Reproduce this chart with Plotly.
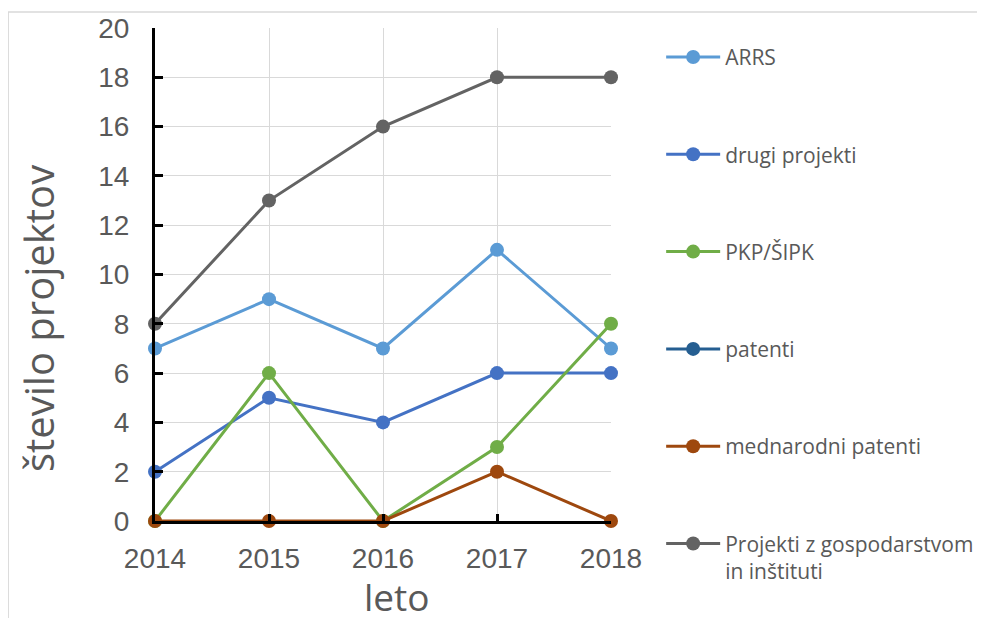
import plotly.graph_objects as go

years = [2014, 2015, 2016, 2017, 2018]
series_names = [
    "ARRS",
    "drugi projekti",
    "PKP/ŠIPK",
    "patenti",
    "mednarodni patenti",
    "Projekti z gospodarstvom<br>in inštituti",
]
arrs = [7, 9, 7, 11, 7]
drugi_projekti = [2, 5, 4, 6, 6]
pkp_sipk = [0, 6, 0, 3, 8]
patenti = [None, None, None, None, None]
mednarodni_patenti = [0, 0, 0, 2, 0]
gospodarstvo = [8, 13, 16, 18, 18]
colors = ["#5B9BD5", "#4472C4", "#70AD47", "#255E91", "#9E480E", "#636363"]

y_ticks = list(range(0, 21, 2))
x_title = "leto"
y_title = "število projektov"

fig = go.Figure()
for name, vals, col in zip(series_names,
                           [arrs, drugi_projekti, pkp_sipk, patenti, mednarodni_patenti, gospodarstvo],
                           colors):
    fig.add_trace(go.Scatter(
        x=years, y=vals, name=name, mode="lines+markers",
        line=dict(color=col, width=3),
        marker=dict(color=col, size=14),
        cliponaxis=False, legendgroup=name, showlegend=True,
    ))

text_col = "#595959"
fig.update_layout(
    width=977, height=610,
    margin=dict(l=147, r=374, t=20, b=97, autoexpand=False),
    paper_bgcolor="white", plot_bgcolor="white",
    showlegend=True,
    legend=dict(
        x=1.110, xanchor="left", y=0.982, yanchor="top",
        font=dict(family="Open Sans", size=21, color=text_col),
        tracegroupgap=67, valign="top", bgcolor="rgba(0,0,0,0)",
        maxheight=600, itemwidth=54,
    ),
    xaxis=dict(
        range=[2014, 2018], tickmode="array", tickvals=years,
        ticktext=[str(y) for y in years],
        showgrid=True, gridcolor="#D9D9D9", gridwidth=1,
        showline=True, linecolor="black", linewidth=3,
        ticks="inside", ticklen=7, tickwidth=3, tickcolor="black",
        zeroline=False,
        tickfont=dict(family="Liberation Sans", size=28, color=text_col),
        ticklabelstandoff=10,
    ),
    yaxis=dict(
        range=[0, 20], tickmode="array", tickvals=y_ticks,
        showgrid=True, gridcolor="#D9D9D9", gridwidth=1,
        showline=True, linecolor="black", linewidth=3,
        ticks="inside", ticklen=8, tickwidth=3, tickcolor="black",
        zeroline=False,
        tickfont=dict(family="Liberation Sans", size=28, color=text_col),
        ticklabelstandoff=17,
    ),
    annotations=[
        dict(text=x_title, xref="paper", yref="paper", x=0.531, y=-0.153,
             xanchor="center", yanchor="middle", showarrow=False,
             font=dict(family="Open Sans", size=37, color=text_col)),
        dict(text=y_title, xref="paper", yref="paper", x=-0.254, y=0.41,
             xanchor="center", yanchor="middle", showarrow=False, textangle=-90,
             font=dict(family="Open Sans", size=40, color=text_col)),
    ],
    shapes=[dict(type="rect", xref="paper", yref="paper",
                 x0=-0.322, y0=-1.0, x1=2.0, y1=1.0325,
                 line=dict(color="#D9D9D9", width=1.5), layer="below")],
)

fig.write_html("out.html")
